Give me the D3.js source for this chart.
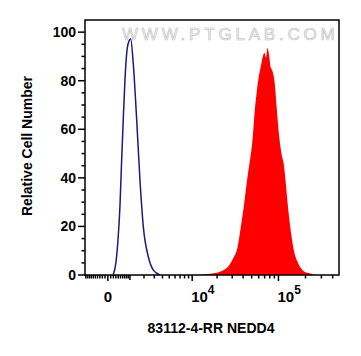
<!DOCTYPE html>
<html>
<head>
<meta charset="utf-8">
<script src="https://cdn.jsdelivr.net/npm/d3@7"></script>
<style>
  body { margin: 0; background: #fff; }
  svg { display: block; }
  text { font-family: "Liberation Sans", Arial, sans-serif; }
</style>
</head>
<body>
<svg id="chart" width="361" height="356"></svg>
<script>
(function(){
"use strict";

// fluorescence intensity (x) vs relative count (y)
var controlX = [190, 300, 387, 477, 548, 636, 722, 813, 903, 1044, 1208, 1436, 1679, 1942, 2389, 2894, 3680];
var controlY = [0, 5, 14, 28, 45, 64, 80, 91, 95.4, 97.2, 87, 64, 39, 20, 7.5, 2, 0];

var stainedX = [11200, 14450, 19000, 23000, 27000, 30900, 34300, 37700, 41300, 44700, 47700, 50900, 54300,
  57300, 60300, 63500, 66900, 69600, 72400, 75200, 78200, 81300, 85700, 90200, 95000, 101300, 108100,
  115300, 121300, 129400, 139800, 151000, 165200, 185600, 216500, 258900];
var stainedY = [0, 0.3, 0.8, 1.8, 3.5, 7, 11, 20, 30, 40, 47, 55, 68,
  76, 82, 86, 90, 91.5, 89.5, 93.5, 91, 86, 84, 80, 70, 58, 50,
  45, 37, 26, 16, 9, 5, 2, 0.8, 0];

var xMajorTicks = [0, 1e4, 1e5];
var xMajorLabels = [{base: "0", exp: ""}, {base: "10", exp: "4"}, {base: "10", exp: "5"}];
var yMajorTicks = [0, 20, 40, 60, 80, 100];

var xTitle = "83112-4-RR NEDD4";
var yTitle = "Relative Cell Number";
var watermark = "WWW.PTGLAB.COM";

var svg = d3.select("#chart");
var plotLeft = 85, plotRight = 339, plotTop = 20, plotBottom = 275;

// biexponential-like display, approximated with symlog
var x = d3.scaleSymlog().constant(1333).domain([-1050, 470000]).range([plotLeft, plotRight]);
var y = d3.scaleLinear().domain([0, 105]).range([plotBottom, plotTop]);

// minor ticks for the x axis: hundreds around zero, then each decade
var xMinorTicks = [];
d3.range(100, 1001, 100).forEach(function(v){ xMinorTicks.push(-v); xMinorTicks.push(v); });
d3.range(2000, 10000, 1000).forEach(function(v){ xMinorTicks.push(v); });
d3.range(20000, 100000, 10000).forEach(function(v){ xMinorTicks.push(v); });
d3.range(200000, 470000, 100000).forEach(function(v){ xMinorTicks.push(v); });
var yMinorTicks = d3.range(5, 105, 5).filter(function(v){ return v % 20 != 0; });

// watermark
svg.append("text")
  .attr("x", 122)
  .attr("y", 40)
  .attr("font-size", 17)
  .attr("letter-spacing", 3.8)
  .attr("fill", "#f3f3f3")
  .attr("stroke", "#bdbdbd")
  .attr("stroke-width", 0.6)
  .text(watermark);

var stained = stainedX.map(function(v, i){ return [v, stainedY[i]]; });
var control = controlX.map(function(v, i){ return [v, controlY[i]]; });

svg.append("path")
  .datum(stained)
  .attr("fill", "#ff0000")
  .attr("d", d3.area()
    .x(function(d){ return x(d[0]); })
    .y0(y(0))
    .y1(function(d){ return y(d[1]); })
    .curve(d3.curveMonotoneX));

svg.append("path")
  .datum(control)
  .attr("fill", "none")
  .attr("stroke", "#1a1a80")
  .attr("stroke-width", 1.5)
  .attr("d", d3.line()
    .x(function(d){ return x(d[0]); })
    .y(function(d){ return y(d[1]); })
    .curve(d3.curveMonotoneX));

// frame
svg.append("rect")
  .attr("x", plotLeft)
  .attr("y", plotTop)
  .attr("width", plotRight - plotLeft)
  .attr("height", plotBottom - plotTop)
  .attr("fill", "none")
  .attr("stroke", "#000")
  .attr("stroke-width", 1.5);

var axes_g = svg.append("g").attr("stroke", "#000").attr("stroke-width", 1.5);

axes_g.selectAll(".xminor")
  .data(xMinorTicks)
  .enter()
  .append("line")
  .attr("class", "xminor")
  .attr("x1", function(d){ return x(d); })
  .attr("x2", function(d){ return x(d); })
  .attr("y1", plotBottom)
  .attr("y2", function(d){ return plotBottom + (d == 1000 ? 5 : 3.5); });

axes_g.selectAll(".xmajor")
  .data(xMajorTicks)
  .enter()
  .append("line")
  .attr("class", "xmajor")
  .attr("x1", function(d){ return x(d); })
  .attr("x2", function(d){ return x(d); })
  .attr("y1", plotBottom)
  .attr("y2", plotBottom + 6);

axes_g.selectAll(".yminor")
  .data(yMinorTicks)
  .enter()
  .append("line")
  .attr("class", "yminor")
  .attr("x1", plotLeft)
  .attr("x2", plotLeft - 3.5)
  .attr("y1", function(d){ return y(d); })
  .attr("y2", function(d){ return y(d); });

axes_g.selectAll(".ymajor")
  .data(yMajorTicks)
  .enter()
  .append("line")
  .attr("class", "ymajor")
  .attr("x1", plotLeft)
  .attr("x2", plotLeft - 7)
  .attr("y1", function(d){ return y(d); })
  .attr("y2", function(d){ return y(d); });

svg.selectAll(".ylabel")
  .data(yMajorTicks)
  .enter()
  .append("text")
  .attr("class", "ylabel")
  .attr("x", plotLeft - 9)
  .attr("y", function(d){ return y(d) + 5; })
  .attr("text-anchor", "end")
  .attr("font-size", 14)
  .attr("font-weight", "bold")
  .text(function(d){ return d; });

var xlabel = svg.selectAll(".xlabel")
  .data(xMajorTicks)
  .enter()
  .append("text")
  .attr("class", "xlabel")
  .attr("x", function(d, i){ return i == 0 ? x(d) : x(d) - 1; })
  .attr("y", 302)
  .attr("text-anchor", function(d, i){ return i == 0 ? "middle" : "start"; })
  .attr("font-size", 15)
  .attr("font-weight", "bold");

xlabel.append("tspan").text(function(d, i){ return xMajorLabels[i].base; });
xlabel.append("tspan")
  .attr("dy", -8)
  .attr("font-size", 12)
  .text(function(d, i){ return xMajorLabels[i].exp; });

svg.append("text")
  .attr("x", 211)
  .attr("y", 333)
  .attr("text-anchor", "middle")
  .attr("font-size", 14)
  .attr("font-weight", "bold")
  .text(xTitle);

svg.append("text")
  .attr("transform", "translate(32,146) rotate(-90)")
  .attr("text-anchor", "middle")
  .attr("font-size", 14)
  .attr("font-weight", "bold")
  .text(yTitle);
})();
</script>
</body>
</html>
